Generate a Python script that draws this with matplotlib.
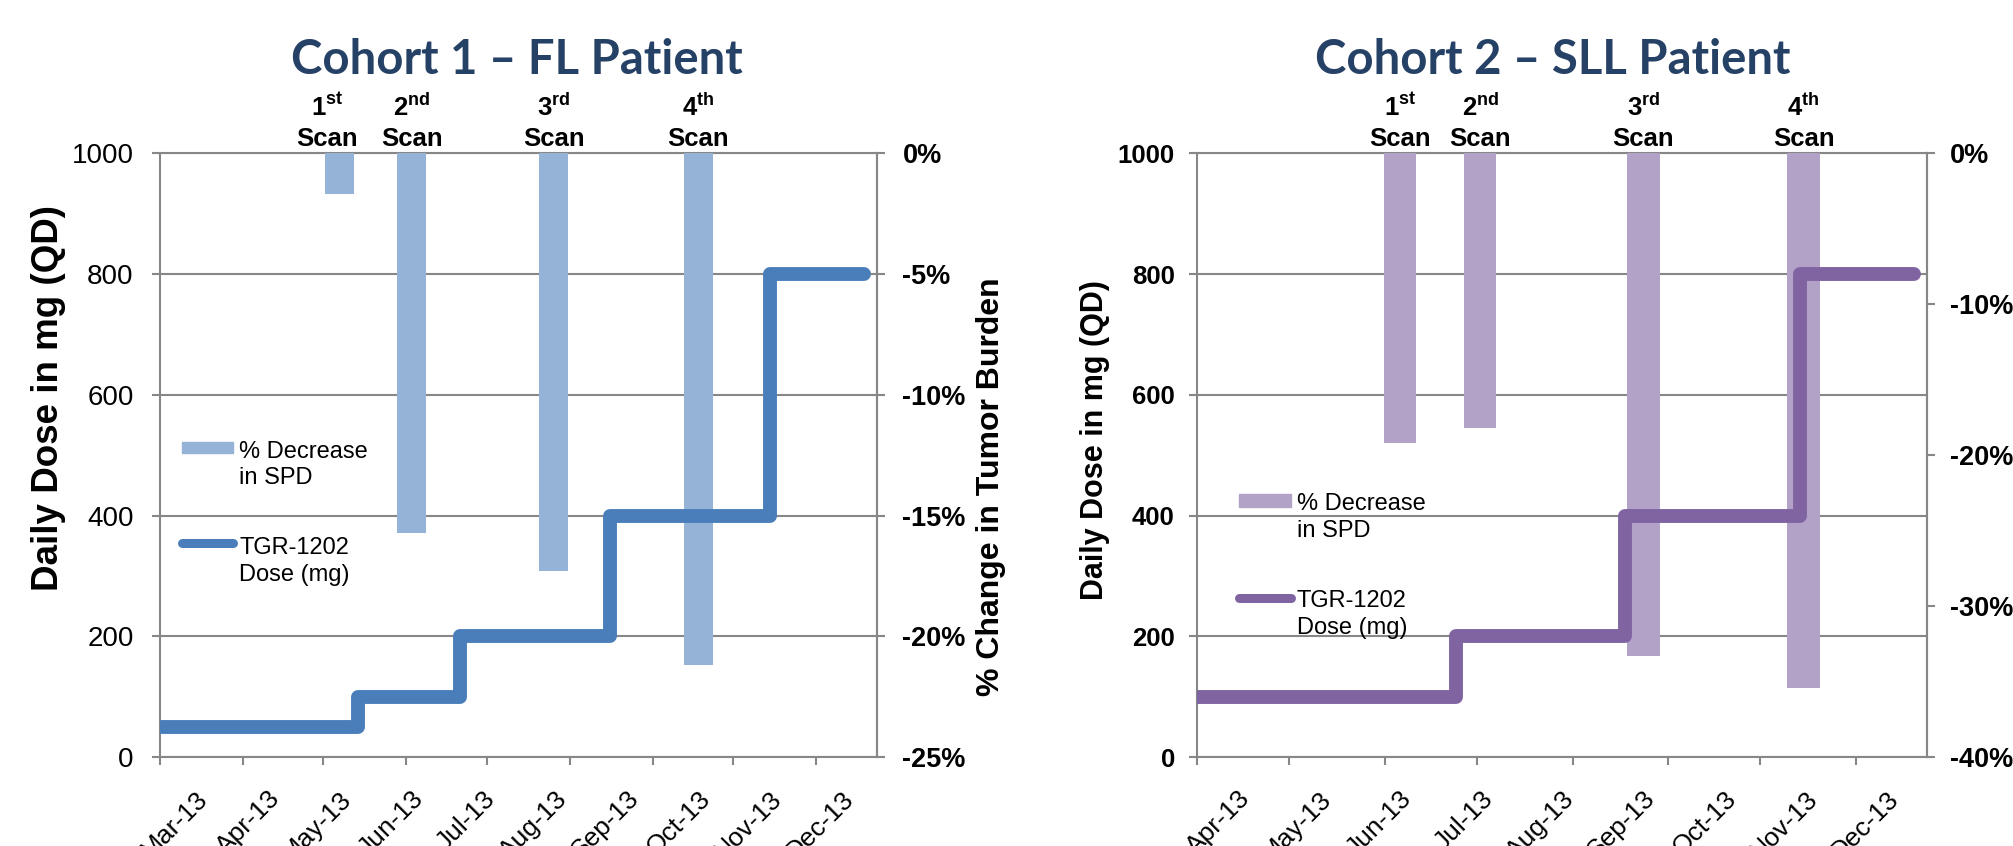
import matplotlib
matplotlib.use("Agg")
import numpy as np
import matplotlib.pyplot as plt
import matplotlib.dates as mdates
from matplotlib.patches import Rectangle
from matplotlib.lines import Line2D
from matplotlib.ticker import NullFormatter

plt.rcParams["font.family"] = ["Liberation Sans", "DejaVu Sans"]
plt.rcParams["mathtext.fontset"] = "custom"
plt.rcParams["mathtext.rm"] = "Liberation Sans"
plt.rcParams["mathtext.bf"] = "Liberation Sans:bold"

# ---- Cohort 1: FL patient ----
fl_dose_dates = ["2013-03-01", "2013-05-14", "2013-06-21", "2013-08-16", "2013-10-15", "2013-11-19"]
fl_dose_mg = [50, 100, 200, 400, 800, 800]
fl_scan_dates = ["2013-05-07", "2013-06-03", "2013-07-26", "2013-09-18"]
fl_spd_change = [-1.7, -15.7, -17.3, -21.2]
fl_month_labels = ["Mar-13", "Apr-13", "May-13", "Jun-13", "Jul-13",
                   "Aug-13", "Sep-13", "Oct-13", "Nov-13", "Dec-13"]

# ---- Cohort 2: SLL patient ----
sll_dose_dates = ["2013-04-01", "2013-06-24", "2013-08-18", "2013-10-14", "2013-11-20"]
sll_dose_mg = [100, 200, 400, 800, 800]
sll_scan_dates = ["2013-06-06", "2013-07-02", "2013-08-24", "2013-10-15"]
sll_spd_change = [-19.2, -18.2, -33.3, -35.4]
sll_month_labels = ["Apr-13", "May-13", "Jun-13", "Jul-13", "Aug-13",
                    "Sep-13", "Oct-13", "Nov-13", "Dec-13"]

dose_ticks = [0, 200, 400, 600, 800, 1000]
scan_labels = [r"1$^{\mathbf{st}}$" + "\nScan", r"2$^{\mathbf{nd}}$" + "\nScan",
               r"3$^{\mathbf{rd}}$" + "\nScan", r"4$^{\mathbf{th}}$" + "\nScan"]
legend_bar_label = "% Decrease\nin SPD"
legend_line_label = "TGR-1202\nDose (mg)"

GRID = "#878787"
TITLE_COLOR = "#264166"
SPINE_LW = 1.5


def draw_panel(fig, rect, spec):
    ax = fig.add_axes(rect)
    x_dose = mdates.datestr2num(spec["dose_dates"])
    x_scan = mdates.datestr2num(spec["scan_dates"])

    # base layer: dose scale, gridlines, month ticks
    ax.set_xlim(mdates.datestr2num(spec["x_start"]), mdates.datestr2num(spec["x_end"]))
    ax.set_ylim(0, 1000)
    ax.set_yticks(dose_ticks, [str(v) for v in dose_ticks],
                  fontweight=spec["dose_tick_weight"], fontsize=spec["dose_tick_size"])
    ax.xaxis.set_major_locator(mdates.MonthLocator())
    ax.xaxis.set_major_formatter(NullFormatter())
    ax.grid(axis="y", color=GRID, lw=SPINE_LW)
    ax.set_axisbelow(True)
    for s in ax.spines.values():
        s.set_color(GRID)
        s.set_linewidth(SPINE_LW)
    ax.tick_params(axis="x", direction="out", length=6, width=SPINE_LW, color=GRID)
    ax.tick_params(axis="y", direction="out", length=6, width=SPINE_LW, color=GRID,
                   pad=spec["dose_tick_pad"])

    # percent-change scale with the scan bars
    axp = ax.twinx()
    pct_ticks = list(range(spec["pct_min"], 1, spec["pct_step"]))
    axp.set_ylim(spec["pct_min"], 0)
    axp.set_yticks(pct_ticks, [f"{v}%" for v in pct_ticks], fontweight="bold",
                   fontsize=19.5)
    axp.tick_params(axis="y", direction="out", length=6, width=SPINE_LW, color=GRID,
                    pad=spec["pct_tick_pad"])
    for name, s in axp.spines.items():
        s.set_visible(name == "right")
        s.set_color(GRID)
        s.set_linewidth(SPINE_LW)
    axp.bar(x_scan, spec["spd"], width=spec["bar_days"], color=spec["bar_color"],
            align="center")

    # dose line on top
    axd = ax.twinx()
    axd.set_ylim(0, 1000)
    axd.axis("off")
    axd.plot(x_dose, spec["dose_mg"], drawstyle="steps-post", lw=10,
             color=spec["line_color"], solid_capstyle="round", solid_joinstyle="round")

    # month labels spread evenly along the bottom
    months = spec["months"]
    n = len(months)
    axl = ax.twiny()
    axl.set_xlim(0, n)
    axl.set_xticks(np.arange(n) + 0.5, months, rotation=45, ha="right", va="top",
                   rotation_mode="anchor", fontsize=19)
    axl.tick_params(axis="x", bottom=True, top=False, labelbottom=True, labeltop=False,
                    length=0, pad=21)
    for s in axl.spines.values():
        s.set_visible(False)

    # legend (text y is the baseline of the second line)
    lg = spec["legend"]
    axl.add_patch(Rectangle(lg["patch"][:2], lg["patch"][2], lg["patch"][3],
                            transform=axl.transAxes, color=spec["bar_color"],
                            clip_on=False))
    axl.text(lg["text1"][0], lg["text1"][1], legend_bar_label, transform=axl.transAxes,
             ha="left", va="baseline", fontsize=17, linespacing=1.25)
    axl.add_line(Line2D(lg["line"][:2], [lg["line"][2]] * 2, transform=axl.transAxes,
                        lw=6.5, color=spec["line_color"], solid_capstyle="round",
                        clip_on=False))
    axl.text(lg["text2"][0], lg["text2"][1], legend_line_label, transform=axl.transAxes,
             ha="left", va="baseline", fontsize=17, linespacing=1.25)

    # scan labels above each bar
    for x, lab, dx in zip(x_scan, scan_labels, spec["scan_dx"]):
        ax.annotate(lab, xy=(x, 1), xycoords=ax.get_xaxis_transform(),
                    xytext=(dx, 2), textcoords="offset points", ha="center",
                    va="bottom", fontsize=18.5, fontweight="bold", linespacing=1.3,
                    annotation_clip=False)

    # axis titles
    ax.text(spec["ylabel_pos"][0], spec["ylabel_pos"][1], "Daily Dose in mg (QD)",
            transform=ax.transAxes, rotation=90, ha="center", va="center",
            fontsize=spec["ylabel_size"], fontweight="bold")
    if spec.get("pct_label"):
        ax.text(spec["pct_label_pos"][0], spec["pct_label_pos"][1], spec["pct_label"],
                transform=ax.transAxes, rotation=90, ha="center", va="center",
                fontsize=spec["pct_label_size"], fontweight="bold")

    ax.text(spec["title_x"], 1 + 79.3 / 604, spec["title"], transform=ax.transAxes,
            ha="center", va="baseline", fontsize=34, fontweight="bold",
            color=TITLE_COLOR, family=["Lato", "DejaVu Sans"])
    return ax


fig = plt.figure(figsize=(20.13, 8.46), dpi=100)

draw_panel(fig, [0.07948, 0.10485, 0.35643, 0.71395], dict(
    title="Cohort 1 \u2013 FL Patient", title_x=0.498,
    dose_dates=fl_dose_dates, dose_mg=fl_dose_mg,
    scan_dates=fl_scan_dates, spd=fl_spd_change, bar_days=10.8,
    months=fl_month_labels, x_start="2013-03-01", x_end="2013-11-24",
    pct_min=-25, pct_step=5,
    bar_color="#95B3D7", line_color="#4A7EBB",
    dose_tick_weight="normal", dose_tick_size=20, dose_tick_pad=13,
    pct_tick_pad=12,
    ylabel_pos=(-0.155, 0.595), ylabel_size=26.5,
    pct_label="% Change in Tumor Burden", pct_label_pos=(1.158, 0.4475),
    pct_label_size=23,
    legend=dict(patch=(0.0302, 0.5033, 0.0719, 0.0192), text1=(0.1104, 0.4525),
                line=(0.0307, 0.1018, 0.3543), text2=(0.1104, 0.2924)),
    scan_dx=[-9, 0, 0, 0],
))

draw_panel(fig, [0.59463, 0.10485, 0.36249, 0.71395], dict(
    title="Cohort 2 \u2013 SLL Patient", title_x=0.487,
    dose_dates=sll_dose_dates, dose_mg=sll_dose_mg,
    scan_dates=sll_scan_dates, spd=sll_spd_change, bar_days=10.5,
    months=sll_month_labels, x_start="2013-04-01", x_end="2013-11-24",
    pct_min=-40, pct_step=10,
    bar_color="#B3A2C7", line_color="#8064A2",
    dose_tick_weight="bold", dose_tick_size=18.5, dose_tick_pad=10,
    pct_tick_pad=11,
    ylabel_pos=(-0.14, 0.525), ylabel_size=22,
    legend=dict(patch=(0.0576, 0.4149, 0.0709, 0.0205), text1=(0.1366, 0.3654),
                line=(0.0576, 0.1288, 0.2632), text2=(0.1366, 0.2046)),
    scan_dx=[0, 0, 0, 0],
))

fig.savefig("out.png", dpi=100)
